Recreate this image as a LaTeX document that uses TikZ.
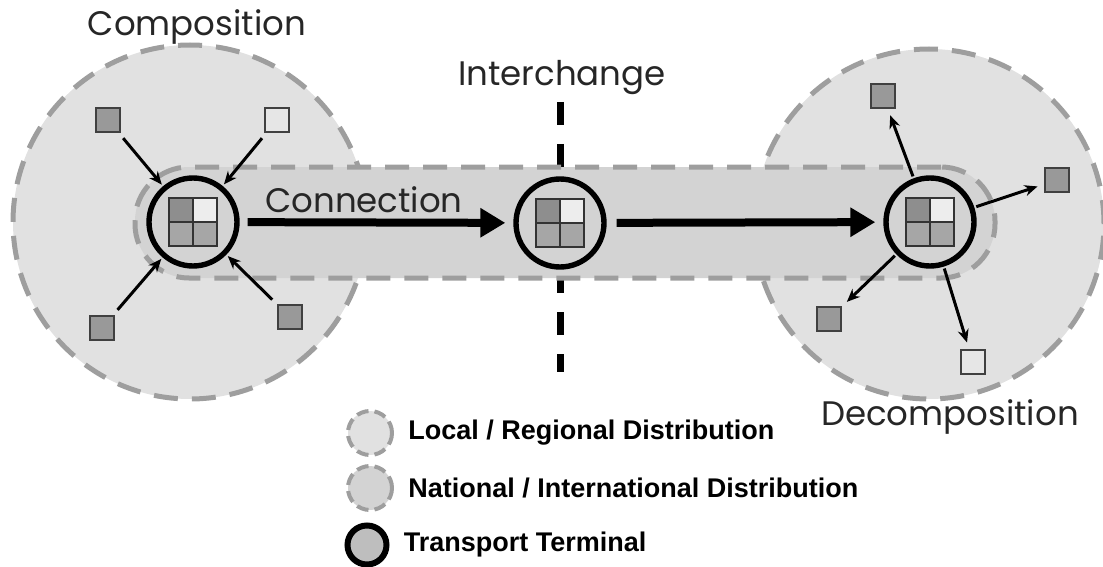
\documentclass[tikz,border=0pt]{standalone}
\usepackage{fontspec}
\setmainfont{Liberation Sans}
\newfontfamily\gothic{Poppins}
\usepackage{tikz}
\usetikzlibrary{arrows.meta,positioning}
\definecolor{localfill}{HTML}{E1E1E1}
\definecolor{bandfill}{HTML}{D3D3D3}
\definecolor{dashgray}{HTML}{9E9E9E}
\definecolor{celldark}{HTML}{8E8E8E}
\definecolor{cellmid}{HTML}{A6A6A6}
\definecolor{celllight}{HTML}{EDEDED}
\definecolor{depotdark}{HTML}{999999}
\definecolor{depotlight}{HTML}{E6E6E6}
\tikzset{
  every picture/.style = {
    x = 0.5pt,
    y = -0.5pt,
    >={Stealth[length=6.5pt,width=5.5pt]},
  }
  ,
  zone-local/.style = {
    circle,
    fill = localfill,
    draw = dashgray,
    line width = 2.5pt,
    dash pattern = on 12pt off 7pt,
    inner sep = 0pt
  }
  ,
  zone-national/.style = {
    rectangle,
    rounded corners = 27pt,
    fill = bandfill,
    draw = dashgray,
    line width = 2.5pt,
    dash pattern = on 12pt off 7pt,
    inner sep = 0pt
  }
  ,
  cell/.style = {
    draw = black!80,
    line width = 0.7pt
  }
  , % transport terminal with its four cells
  terminal/.style = {
    circle,
    draw,
    fill = bandfill,
    line width = 2.7pt,
    minimum size = 44pt,
    inner sep = 0pt,
    path picture = {
      \coordinate (g) at (path picture bounding box.center);
      \filldraw[cell, fill=celldark] (g) rectangle ++(-12pt,12pt);
      \filldraw[cell, fill=celllight] (g) rectangle ++(12pt,12pt);
      \filldraw[cell, fill=cellmid] (g) rectangle ++(-12pt,-12pt);
      \filldraw[cell, fill=cellmid] (g) rectangle ++(12pt,-12pt);
    }
  }
  ,
  depot/.style = {
    rectangle,
    draw = black!75,
    line width = 0.8pt,
    minimum size = 12pt,
    inner sep = 0pt
  }
  ,
  feed-in/.style = {
    ->,
    line width = 1.5pt,
    shorten <= 3.5pt,
    shorten >= 1pt
  }
  ,
  feed-out/.style = {
    ->,
    line width = 1.5pt,
    shorten <= 1pt,
    shorten >= 3.5pt
  }
  ,
  link/.style = {
    -{Triangle[length=12.5pt,width=14pt]},
    line width = 4pt
  }
  ,
  heading/.style = {
    font = \gothic\fontsize{17}{20}\selectfont,
    text = black!85,
    inner sep = 0pt
  }
  ,
  legend-text/.style = {
    font = \bfseries\fontsize{13.5}{15}\selectfont,
    inner sep = 0pt
  }
}
\begin{document}
\begin{tikzpicture}
\useasboundingbox (0,0) rectangle (1103,567);
% local / regional zones
\node[zone-local, minimum size=177pt] (zone-a) at (190,222) {};
\node[zone-local, minimum size=175pt] (zone-c) at (929,224) {};
% interchange border
\coordinate (ic-top) at (560,102);
\coordinate (ic-bot) at (560,372);
\draw[line width=3.5pt, dash pattern=on 11.5pt off 9.5pt] (ic-top) -- (ic-bot);
% national / international corridor
\node[zone-national, minimum width=430pt, minimum height=55.5pt] (band) at (565,222.5) {};
% terminals
\node[terminal] (term-a) at (193,222) {};
\node[terminal] (term-b) at (560,223) {};
\node[terminal] (term-c) at (930,222) {};
\draw[link, shorten <=4pt, shorten >=4pt] (term-a) -- (term-b);
\draw[link, shorten <=5pt, shorten >=4pt] (term-b) -- (term-c);
% depots of the composition side
\node[depot, fill=depotdark] (d-nw) at (108,120) {};
\node[depot, fill=depotlight] (d-ne) at (277,120) {};
\node[depot, fill=depotdark] (d-sw) at (102,328) {};
\node[depot, fill=depotdark] (d-se) at (290,317) {};
\draw[feed-in] (d-nw) -- (term-a);
\draw[feed-in] (d-ne) -- (term-a);
\draw[feed-in] (d-sw) -- (term-a);
\draw[feed-in] (d-se) -- (term-a);
% depots of the decomposition side
\node[depot, fill=depotdark] (e-n) at (883,96) {};
\node[depot, fill=depotdark] (e-e) at (1057,180) {};
\node[depot, fill=depotdark] (e-sw) at (829,319) {};
\node[depot, fill=depotlight] (e-s) at (973,362) {};
\draw[feed-out] (term-c) -- (e-n);
\draw[feed-out] (term-c) -- (e-e);
\draw[feed-out] (term-c) -- (e-sw);
\draw[feed-out] (term-c) -- (e-s);
% labels
\node[heading] (lbl-comp) at (197,27) {Composition};
\node[heading] (lbl-ic) at (562,78) {Interchange};
\node[heading] (lbl-conn) at (364,200) {Connection};
\node[heading] (lbl-decomp) at (950,417) {Decomposition};
% legend
\node[zone-local, minimum size=22pt, line width=2pt, dash pattern=on 6pt off 3pt] (key-local) at (370,433) {};
\node[legend-text, right = 7pt of key-local] (txt-local) {Local / Regional Distribution};
\node[zone-local, fill=bandfill, minimum size=22pt, line width=2pt, dash pattern=on 6pt off 3pt] (key-nat) at (370,488) {};
\node[legend-text, right = 7pt of key-nat] (txt-nat) {National / International Distribution};
\node[circle, draw, fill=bandfill!90!black, line width=3pt, minimum size=19.5pt, inner sep=0pt] (key-term) at (367,545) {};
\node[legend-text, right = 7pt of key-term] (txt-term) {Transport Terminal};
\end{tikzpicture}
\end{document}
